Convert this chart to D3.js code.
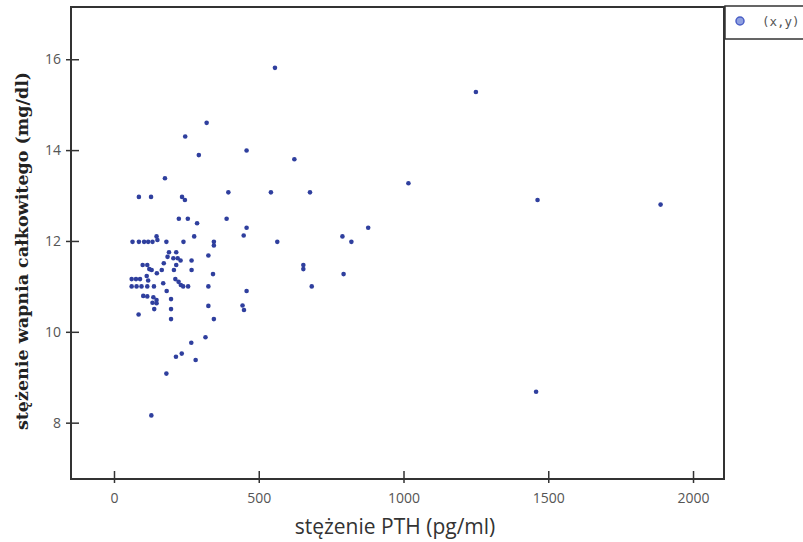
<!DOCTYPE html>
<html>
<head>
<meta charset="utf-8">
<script src="https://cdn.jsdelivr.net/npm/d3@7"></script>
<style>
body { margin: 0; background: #fff; }
svg { display: block; }
</style>
</head>
<body>
<div id="main-chart"></div>
<script>
// PTH (pg/ml) vs total calcium (mg/dl)
let pth = [556, 1250, 320, 246, 458, 293, 623, 176, 1017, 86, 128, 235, 245, 395, 542, 677, 1463, 1888,
    224, 255, 287, 389, 458, 878, 789, 448, 820, 564,
    64, 86, 104, 118, 133, 150, 181, 147, 240, 277, 345, 345,
    190, 215, 185, 205, 220, 326, 230, 268, 172,
    99, 115, 122, 130, 148, 165, 215, 207, 268, 654, 654, 342, 793,
    61, 76, 90, 113, 118, 61, 78, 95, 115, 138, 170,
    212, 223, 231, 239, 256, 326, 683, 182, 458,
    101, 115, 136, 147, 133, 147, 139, 197, 197, 326, 444, 449, 85, 197, 345,
    316, 267, 214, 234, 282, 181, 129, 1458];
let calcium = [15.81, 15.28, 14.6, 14.3, 13.99, 13.89, 13.8, 13.38, 13.27, 12.97, 12.97, 12.97, 12.9, 13.07, 13.07, 13.07, 12.9, 12.8,
    12.49, 12.49, 12.39, 12.49, 12.29, 12.29, 12.1, 12.12, 11.98, 11.98,
    11.98, 11.98, 11.98, 11.98, 11.98, 12.02, 11.98, 12.1, 11.98, 12.1, 11.98, 11.9,
    11.75, 11.75, 11.65, 11.62, 11.62, 11.68, 11.57, 11.57, 11.51,
    11.47, 11.47, 11.38, 11.36, 11.29, 11.36, 11.47, 11.36, 11.36, 11.47, 11.38, 11.27, 11.27,
    11.16, 11.16, 11.16, 11.23, 11.13, 11.0, 11.0, 11.0, 11.0, 11.0, 11.07,
    11.16, 11.1, 11.03, 11.0, 11.0, 11.0, 11.0, 10.9, 10.9,
    10.79, 10.78, 10.76, 10.7, 10.64, 10.63, 10.5, 10.72, 10.5, 10.57, 10.58, 10.48, 10.38, 10.28, 10.28,
    9.88, 9.76, 9.45, 9.52, 9.38, 9.08, 8.16, 8.68];
let xTicks = [0, 500, 1000, 1500, 2000];
let yTicks = [8, 10, 12, 14, 16];
let legendLabel = "(x,y)";

let width = 803, height = 542;
let frame = {left: 71, right: 724, top: 7, bottom: 479};

let svg = d3.select('#main-chart').append('svg')
    .attr('width', width)
    .attr('height', height);

let x = d3.scaleLinear().domain([-148.5, 2107]).range([frame.left, frame.right]);
let y = d3.scaleLinear().domain([6.76, 17.15]).range([frame.bottom, frame.top]);

// frame box
svg.append('rect')
    .attr('x', frame.left)
    .attr('y', frame.top)
    .attr('width', frame.right - frame.left)
    .attr('height', frame.bottom - frame.top)
    .attr('fill', 'none')
    .attr('stroke', '#333')
    .attr('stroke-width', 2);

// axes, ticks cross the frame line
let xAxis = svg.append('g')
    .attr('transform', `translate(0,${frame.bottom})`)
    .call(d3.axisBottom(x).tickValues(xTicks).tickFormat(d3.format('d')).tickSize(0).tickPadding(14));
xAxis.select('.domain').remove();
xAxis.selectAll('.tick').append('line')
    .attr('y1', -8).attr('y2', 4)
    .attr('stroke', '#333').attr('stroke-width', 1.5);
xAxis.selectAll('text')
    .attr('font-family', '"Open Sans", sans-serif')
    .attr('font-size', 14)
    .attr('fill', '#555');

let yAxis = svg.append('g')
    .attr('transform', `translate(${frame.left},0)`)
    .call(d3.axisLeft(y).tickValues(yTicks).tickFormat(d3.format('d')).tickSize(0).tickPadding(10));
yAxis.select('.domain').remove();
yAxis.selectAll('.tick').append('line')
    .attr('x1', -5).attr('x2', 8)
    .attr('stroke', '#333').attr('stroke-width', 1.5);
yAxis.selectAll('text')
    .attr('font-family', '"Open Sans", sans-serif')
    .attr('font-size', 14)
    .attr('fill', '#555');

// points
let points = pth.map((d, i) => ({x: d, y: calcium[i]}));
svg.append('g').selectAll('circle')
    .data(points)
    .join('circle')
    .attr('cx', d => x(d.x))
    .attr('cy', d => y(d.y))
    .attr('r', 2.3)
    .attr('fill', '#2f3f9e');

// axis titles
svg.append('text')
    .attr('x', 395)
    .attr('y', 534)
    .attr('text-anchor', 'middle')
    .attr('font-family', '"Open Sans", sans-serif')
    .attr('font-size', 21)
    .attr('fill', '#333')
    .text('stężenie PTH (pg/ml)');

svg.append('text')
    .attr('transform', 'translate(28,251) rotate(-90)')
    .attr('text-anchor', 'middle')
    .attr('font-family', '"DejaVu Serif", serif')
    .attr('font-weight', 'bold')
    .attr('font-size', 17.5)
    .attr('fill', '#222')
    .text('stężenie wapnia całkowitego (mg/dl)');

// legend, runs off the right edge
let legend = svg.append('g');
legend.append('rect')
    .attr('x', 725).attr('y', 6)
    .attr('width', 100).attr('height', 33)
    .attr('fill', '#fff')
    .attr('stroke', '#333')
    .attr('stroke-width', 1.5);
legend.append('circle')
    .attr('cx', 740).attr('cy', 21)
    .attr('r', 4)
    .attr('fill', '#8fa0e0')
    .attr('stroke', '#4b5fc6')
    .attr('stroke-width', 1.5);
legend.append('text')
    .attr('x', 762).attr('y', 26)
    .attr('font-family', '"DejaVu Sans Mono", monospace')
    .attr('font-size', 12.5)
    .attr('fill', '#555')
    .text(legendLabel);
</script>
</body>
</html>
